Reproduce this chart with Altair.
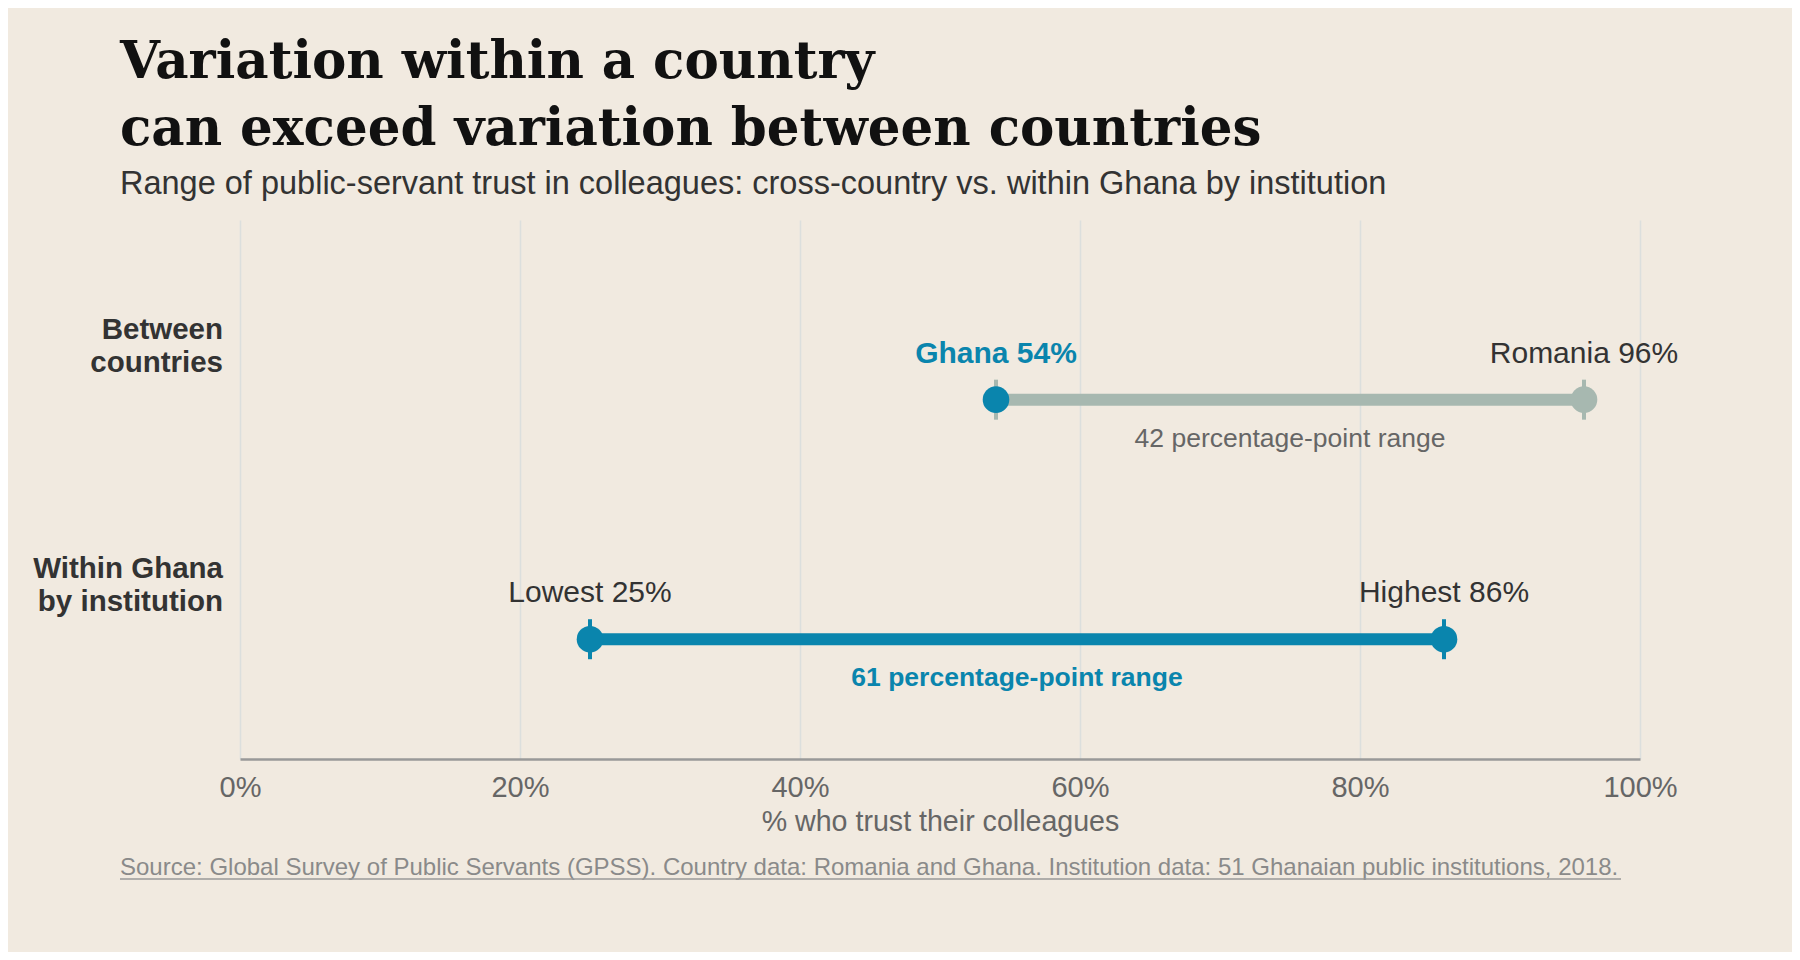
import altair as alt
import pandas as pd

# ---- data ----
rows = ["Between countries", "Within Ghana by institution"]
row_pos = [2, 1]
row_titles = ["Between\ncountries", "Within Ghana\nby institution"]
low_values = [54, 25]
high_values = [96, 86]
low_labels = ["Ghana 54%", "Lowest 25%"]
high_labels = ["Romania 96%", "Highest 86%"]
range_labels = ["42 percentage-point range", "61 percentage-point range"]
x_ticks = [0, 20, 40, 60, 80, 100]
title_lines = ["Variation within a country", "can exceed variation between countries"]
subtitle = "Range of public-servant trust in colleagues: cross-country vs. within Ghana by institution"
source = ("Source: Global Survey of Public Servants (GPSS). Country data: Romania and Ghana. "
          "Institution data: 51 Ghanaian public institutions, 2018.")

BLUE = "#0a85ad"
SAGE = "#a7b8b0"
DARK = "#333333"
MID = "#666666"
BG = "#f1eae0"
SANS = "Liberation Sans"

seg = pd.DataFrame({
    "row": rows, "pos": row_pos, "x": low_values, "x2": high_values,
    "line_color": [SAGE, BLUE],
})
seg["label"] = range_labels
seg["kind"] = ["plain", "bold"]

pts = pd.DataFrame({
    "row": rows * 2,
    "pos": row_pos * 2,
    "x": low_values + high_values,
    "label": low_labels + high_labels,
    "dot_color": [BLUE, BLUE, SAGE, BLUE],
    "tick_color": [SAGE, BLUE, SAGE, BLUE],
    "kind": ["bold", "plain", "plain", "plain"],
})

ylab = pd.DataFrame({"pos": row_pos, "text": row_titles})
src = pd.DataFrame({"text": [source]})

X_AXIS = alt.Axis(
    values=x_ticks, labelExpr="datum.value + '%'", grid=True,
    gridColor="#dcdfdd", gridWidth=1.5, domainColor="#999999", domainWidth=2.5,
    ticks=False, tickSize=0, labelPadding=14, labelFlush=False, labelOverlap=False,
    labelFont=SANS, labelFontSize=29, labelColor=MID,
    titleFont=SANS, titleFontSize=28.6, titleColor=MID, titleFontWeight="normal",
    titlePadding=5,
)
X_TITLE = "% who trust their colleagues"
X_SCALE = alt.Scale(domain=[0, 100])
Y_SCALE = alt.Scale(domain=[0.5, 2.75])


def xenc(field="x"):
    return alt.X(f"{field}:Q", scale=X_SCALE, axis=X_AXIS, title=X_TITLE)


def yenc():
    return alt.Y("pos:Q", scale=Y_SCALE, axis=None)


lines = alt.Chart(seg).mark_rule(strokeWidth=12, strokeCap="butt").encode(
    x=xenc(), x2="x2:Q", y=yenc(), color=alt.Color("line_color:N", scale=None)
)

ticks = alt.Chart(pts).mark_tick(orient="vertical", size=40, thickness=4, opacity=1).encode(
    x=xenc(), y=yenc(), color=alt.Color("tick_color:N", scale=None)
)

dots = alt.Chart(pts).mark_circle(size=707, opacity=1).encode(
    x=xenc(), y=yenc(), color=alt.Color("dot_color:N", scale=None)
)

labels_plain = alt.Chart(pts).transform_filter("datum.kind == 'plain'").mark_text(
    font=SANS, fontSize=30, color=DARK, baseline="alphabetic", dy=-37
).encode(x=xenc(), y=yenc(), text="label:N")

labels_bold = alt.Chart(pts).transform_filter("datum.kind == 'bold'").mark_text(
    font=SANS, fontSize=30, fontWeight="bold", color=BLUE, baseline="alphabetic", dy=-37
).encode(x=xenc(), y=yenc(), text="label:N")

range_base = alt.Chart(seg).transform_calculate(mid="(datum.x + datum.x2) / 2")
range_plain = range_base.transform_filter("datum.kind == 'plain'").mark_text(
    font=SANS, fontSize=26.5, color=MID, baseline="alphabetic", dy=47
).encode(x=xenc("mid"), y=yenc(), text="label:N")
range_bold = range_base.transform_filter("datum.kind == 'bold'").mark_text(
    font=SANS, fontSize=26.5, fontWeight="bold", color=BLUE, baseline="alphabetic", dy=47
).encode(x=xenc("mid"), y=yenc(), text="label:N")

row_text = alt.Chart(ylab).mark_text(
    font=SANS, fontSize=29.5, fontWeight="bold", color=DARK, align="right",
    baseline="alphabetic", dy=-61, lineBreak="\n", lineHeight=33
).encode(x=alt.value(-17), y=yenc(), text="text:N")

source_text = alt.Chart(src).mark_text(
    font=SANS, fontSize=24, color="#8a8a8a", align="left", baseline="alphabetic"
).encode(x=alt.value(-120), y=alt.value(655), text="text:N")

source_line = alt.Chart(src).mark_rule(color="#999999", strokeWidth=1.5).encode(
    x=alt.value(-120), x2=alt.value(1381), y=alt.value(659)
)

chart = alt.layer(
    lines, ticks, dots, labels_plain, labels_bold, range_plain, range_bold,
    row_text, source_text, source_line
).properties(
    width=1400, height=539,
    autosize=alt.AutoSizeParams(type="none"),
    padding={"left": 232, "top": 212, "right": 152, "bottom": 193},
    title=alt.TitleParams(
        text=title_lines, subtitle=subtitle, anchor="start", frame="group", dx=-120,
        font="DejaVu Serif", fontSize=51.5, fontWeight="bold", color="#111111",
        lineHeight=67, subtitleFont=SANS, subtitleFontSize=32.5, subtitleColor=DARK,
        subtitlePadding=12, offset=20,
    ),
).configure(background=BG).configure_view(stroke=None)

chart.save("out.html", embed_options={"renderer": "svg", "actions": False})
